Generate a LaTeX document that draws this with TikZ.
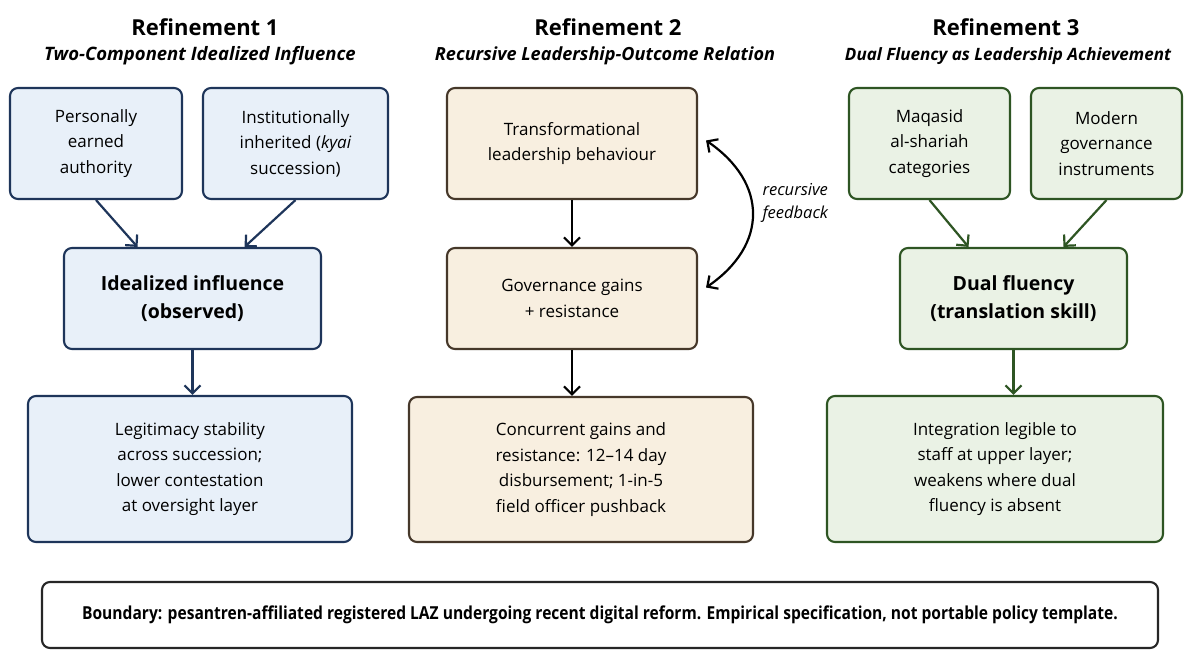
\documentclass[tikz,border=0pt]{standalone}
\usepackage{fontspec}
\setmainfont{Open Sans}
\newfontfamily\condfont[FakeStretch=0.87]{Open Sans}
\usetikzlibrary{arrows.meta,calc}
\definecolor{bluefill}{HTML}{E8F0F9}
\definecolor{blueline}{HTML}{1E355A}
\definecolor{beigefill}{HTML}{F8EFE0}
\definecolor{beigeline}{HTML}{46382A}
\definecolor{greenfill}{HTML}{EAF2E5}
\definecolor{greenline}{HTML}{2E5523}
\tikzset{
  >={Straight Barb[length=8pt,width=16pt,line width=2.2pt]},
  box/.style={draw, rounded corners=8pt, line width=2.1pt, align=center, inner sep=0pt,
    font=\fontsize{17}{25.5}\selectfont},
  bluebox/.style={box, fill=bluefill, draw=blueline},
  beigebox/.style={box, fill=beigefill, draw=beigeline},
  greenbox/.style={box, fill=greenfill, draw=greenline},
  boldtxt/.style={font=\fontsize{19.5}{28}\selectfont\bfseries},
  conn/.style={line width=2.2pt, ->},
  ttl/.style={font=\fontsize{22}{26}\selectfont\bfseries},
  subttl/.style={font=\fontsize{18.5}{20}\selectfont\bfseries\itshape},
}
\begin{document}
\begin{tikzpicture}[x=1pt,y=-1pt]
\useasboundingbox[fill=white] (0,0) rectangle (1184,653);

% titles
\node[ttl] (t1) at (205,27) {Refinement 1};
\node[subttl] (s1) at (200,56) {Two-Component Idealized Influence};
\node[ttl] (t2) at (608,27) {Refinement 2};
\node[subttl, font=\fontsize{18.1}{20}\selectfont\bfseries\itshape] (s2) at (605,56) {Recursive Leadership-Outcome Relation};
\node[ttl] (t3) at (1006,27) {Refinement 3};
\node[subttl, font=\fontsize{17}{20}\selectfont\bfseries\itshape] (s3) at (1008,56) {Dual Fluency as Leadership Achievement};

% column 1
\node[bluebox, minimum width=172pt, minimum height=111pt] (a1) at (96,143.5) {Personally\\earned\\authority};
\node[bluebox, minimum width=185pt, minimum height=111pt] (a2) at (295.5,143.5) {Institutionally\\inherited (\textit{kyai}\\succession)};
\node[bluebox, boldtxt, minimum width=257pt, minimum height=101pt] (a3) at (192.5,298.5) {Idealized influence\\(observed)};
\node[bluebox, minimum width=324pt, minimum height=146pt] (a4) at (190,469) {Legitimacy stability\\across succession;\\lower contestation\\at oversight layer};
\draw[conn, blueline] (a1.south) -- ([xshift=-55pt]a3.north);
\draw[conn, blueline] (a2.south) -- ([xshift=52pt]a3.north);
\draw[conn, blueline] (a3.south) -- (a3.south |- a4.north);

% column 2
\node[beigebox, minimum width=250pt, minimum height=111pt] (b1) at (572,143.5) {Transformational\\leadership behaviour};
\node[beigebox, minimum width=250pt, minimum height=101pt] (b2) at (572,298.5) {Governance gains\\+ resistance};
\node[beigebox, minimum width=344pt, minimum height=145pt] (b3) at (581,469.5) {Concurrent gains and\\resistance: 12--14 day\\disbursement; 1-in-5\\field officer pushback};
\draw[conn, black] (b1.south) -- (b2.north);
\draw[conn, black] (b2.south) -- (b2.south |- b3.north);
\coordinate (fbA) at ([xshift=8pt,yshift=3pt]b1.east);
\coordinate (fbB) at ([xshift=8pt,yshift=11pt]b2.east);
\draw[line width=2.2pt, black, <->]
  (fbA) .. controls (768,183) and (768,245) .. (fbB);
\node[anchor=west, align=left, font=\fontsize{16.5}{23}\selectfont\itshape] (fbl) at (759,203) {recursive\\feedback};

% column 3
\node[greenbox, minimum width=161pt, minimum height=111pt] (c1) at (929.5,143.5) {Maqasid\\al-shariah\\categories};
\node[greenbox, minimum width=151pt, minimum height=111pt] (c2) at (1106.5,143.5) {Modern\\governance\\instruments};
\node[greenbox, boldtxt, minimum width=227pt, minimum height=101pt] (c3) at (1013.5,298.5) {Dual fluency\\(translation skill)};
\node[greenbox, minimum width=336pt, minimum height=146pt] (c4) at (995,469) {Integration legible to\\staff at upper layer;\\weakens where dual\\fluency is absent};
\draw[conn, greenline] (c1.south) -- ([xshift=-45pt]c3.north);
\draw[conn, greenline] (c2.south) -- ([xshift=50pt]c3.north);
\draw[conn, greenline] (c3.south) -- (c3.south |- c4.north);

% boundary
\node[draw=black!85, fill=white, rounded corners=8pt, line width=2.1pt, minimum width=1116pt, minimum height=66pt,
  font=\condfont\fontsize{17.9}{20}\selectfont\bfseries] (bd) at (600,615)
  {Boundary: pesantren-affiliated registered LAZ undergoing recent digital reform. Empirical specification, not portable policy template.};
\end{tikzpicture}
\end{document}
